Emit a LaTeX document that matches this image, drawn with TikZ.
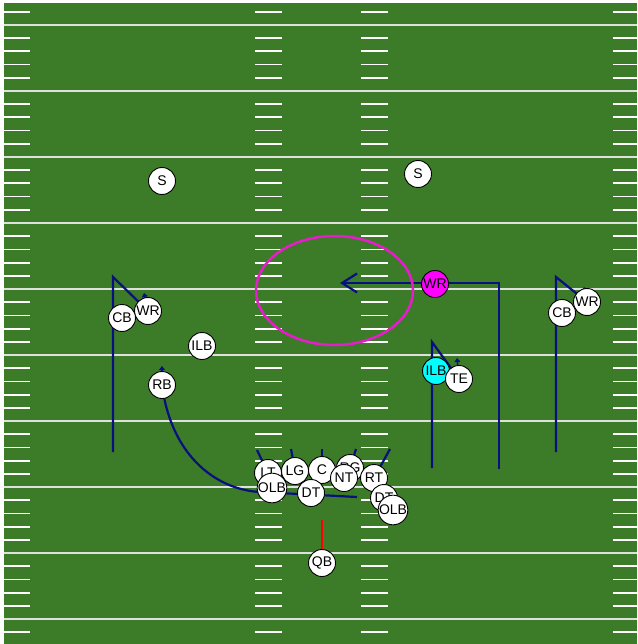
\documentclass[tikz,border=0pt]{standalone}
\usepackage{fontspec}
\setmainfont{Liberation Sans}
\usepackage{xcolor}
\usepackage{tikz}
\usetikzlibrary{arrows.meta}
\definecolor{fieldGreen}{RGB}{60,123,40}
\definecolor{fieldLine}{RGB}{222,226,220}
\definecolor{routeNavy}{RGB}{8,16,128}
\definecolor{zoneMagenta}{RGB}{228,30,200}
\definecolor{wrMagenta}{RGB}{255,0,255}
\definecolor{ilbCyan}{RGB}{0,255,255}

\tikzset{
  player/.style={circle, draw=black, fill=white, line width=0.9pt,
    minimum size=27pt, inner sep=0pt, font=\fontsize{14}{14}\selectfont},
  route/.style={routeNavy, line width=2.2pt},
  motion/.style={routeNavy, line width=1.5pt, -{Triangle[length=4pt,width=6pt]}},
  hashmark/.style={white, line width=1.8pt},
}

\begin{document}
\begin{tikzpicture}[x=1pt,y=-1pt]
    \useasboundingbox (0,0) rectangle (637,644);
    \fill[white] (0,0) rectangle (637,644);

    % field
    \begin{scope}
        \clip (4,3) rectangle (637,644);
        \fill[fieldGreen] (4,3) rectangle (637,644);
        % yard lines
        \foreach \k in {0,...,9}
            \draw[fieldLine, line width=2pt] (4,25+66*\k) -- (637,25+66*\k);
        % hash marks
        \foreach \k in {-1,...,9}
            \foreach \j in {1,...,4} {
                \pgfmathsetmacro\hy{25+66*\k+13.2*\j}
                \draw[hashmark] (4,\hy) -- (30,\hy);
                \draw[hashmark] (255,\hy) -- (282,\hy);
                \draw[hashmark] (361,\hy) -- (388,\hy);
                \draw[hashmark] (613,\hy) -- (637,\hy);
            }
    \end{scope}

    % player spots
    \coordinate (pSL) at (162,181);
    \coordinate (pSR) at (418,174);
    \coordinate (pWRM) at (435,284);
    \coordinate (pCBL) at (122,318);
    \coordinate (pWRL) at (148,311);
    \coordinate (pILB) at (202,346);
    \coordinate (pRB) at (162,385);
    \coordinate (pILBC) at (436,371);
    \coordinate (pTE) at (459,379);
    \coordinate (pCBR) at (562,313);
    \coordinate (pWRR) at (587,302);
    \coordinate (pLT) at (268,473);
    \coordinate (pLG) at (295,471);
    \coordinate (pC) at (322,470);
    \coordinate (pRG) at (350,468);
    \coordinate (pRT) at (374,478);
    \coordinate (pNT) at (344,478);
    \coordinate (pDTM) at (311,493);
    \coordinate (pOLBL) at (272,488);
    \coordinate (pDTR) at (384,498);
    \coordinate (pOLBR) at (393,510);
    \coordinate (pQB) at (322,563);

    % route ends
    \coordinate (cblStart) at (113,452);
    \coordinate (cblTurn) at (113,277);
    \coordinate (cbrStart) at (556,452);
    \coordinate (cbrTurn) at (556,277);
    \coordinate (ilbStart) at (432,468);
    \coordinate (ilbTurn) at (432,342);
    \coordinate (wrStart) at (499,469);
    \coordinate (wrTurn) at (499,283);
    \coordinate (wrTip) at (340,283);
    \coordinate (rbBend) at (260,492);
    \coordinate (rbEnd) at (357,497);
    \coordinate (snap) at (322,520);

    % coverage drops
    \draw[route] (cblStart) -- (cblTurn) -- (pWRL);
    \draw[route] (cbrStart) -- (cbrTurn) -- (pWRR);
    \draw[route] (ilbStart) -- (ilbTurn) -- (pTE);

    % receiver route
    \draw[route, -{Straight Barb[length=15pt,width=19pt]}] (wrStart) -- (wrTurn) -- (wrTip);

    % back out of the backfield
    \draw[route] (pRB) .. controls (172,460) and (220,490) .. (rbBend) -- (rbEnd);

    % motion marks
    \draw[motion] (pRB) -- (162,366);
    \draw[motion] (pWRL) -- (144,293);
    \draw[motion] (pTE) -- (457,358);
    \draw[motion] (pWRR) -- (584,287);

    % blocks
    \draw[route] (pLT) -- (257,450);
    \draw[route] (pLG) -- (291,449);
    \draw[route] (pC) -- (322,449);
    \draw[route] (pRG) -- (356,449);
    \draw[route] (pRT) -- (390,449);

    % zone
    \draw[zoneMagenta, line width=2.5pt] (334.5,290.5) ellipse [x radius=78.5, y radius=54.5];

    % players
    \node[player] (sl) at (pSL) {S};
    \node[player] (sr) at (pSR) {S};
    \node[player, fill=wrMagenta] (wrm) at (pWRM) {WR};
    \node[player] (wrl) at (pWRL) {WR};
    \node[player] (cbl) at (pCBL) {CB};
    \node[player] (ilb) at (pILB) {ILB};
    \node[player] (rb) at (pRB) {RB};
    \node[player, fill=ilbCyan] (ilbc) at (pILBC) {ILB};
    \node[player] (te) at (pTE) {TE};
    \node[player] (cbr) at (pCBR) {CB};
    \node[player] (wrr) at (pWRR) {WR};
    \node[player] (lt) at (pLT) {LT};
    \node[player] (lg) at (pLG) {LG};
    \node[player] (c) at (pC) {C};
    \node[player] (rg) at (pRG) {RG};
    \node[player] (rt) at (pRT) {RT};
    \node[player] (nt) at (pNT) {NT};
    \node[player] (dtm) at (pDTM) {DT};
    \node[player] (olbl) at (pOLBL) {OLB};
    \node[player] (dtr) at (pDTR) {DT};
    \node[player] (olbr) at (pOLBR) {OLB};
    \node[player] (qb) at (pQB) {QB};

    % snap
    \draw[red, line width=2pt] (snap) -- (qb);
\end{tikzpicture}
\end{document}
